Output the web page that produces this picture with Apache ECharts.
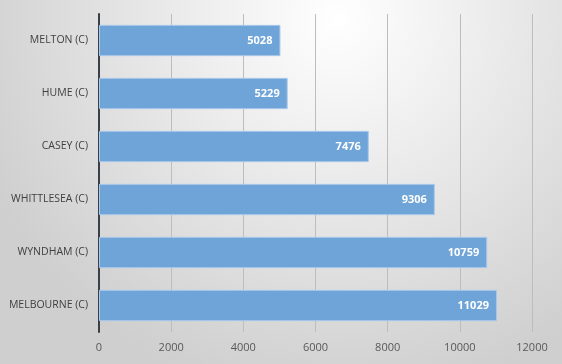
<!DOCTYPE html>
<html><head><meta charset="utf-8">
<script src="https://cdn.jsdelivr.net/npm/echarts@6/dist/echarts.min.js"></script>
<style>html,body{margin:0;padding:0;}#c{width:562px;height:364px;}</style>
</head><body><div id="c"></div>
<script>
const categories = ['MELTON (C)', 'HUME (C)', 'CASEY (C)', 'WHITTLESEA (C)', 'WYNDHAM (C)', 'MELBOURNE (C)'];
const values = [5028, 5229, 7476, 9306, 10759, 11029];
const xTicks = [0, 2000, 4000, 6000, 8000, 10000, 12000];

const chart = echarts.init(document.getElementById('c'), null, {renderer: 'canvas'});
chart.setOption({
  animation: false,
  backgroundColor: {
    type: 'radial', x: 0.6, y: 0.05, r: 1.05,
    colorStops: [{offset: 0, color: '#ffffff'}, {offset: 1, color: '#cfcfcf'}]
  },
  grid: {left: 99, right: 30, top: 14, bottom: 32, containLabel: false},
  xAxis: {
    type: 'value', min: xTicks[0], max: xTicks[xTicks.length - 1], interval: 2000,
    axisLine: {show: false}, axisTick: {show: false},
    splitLine: {show: true, lineStyle: {color: '#bdbdbd', width: 1}},
    axisLabel: {color: '#595959', fontFamily: 'Open Sans', fontSize: 11, margin: 10,
      formatter: v => String(v)}
  },
  yAxis: {
    type: 'category', data: categories, inverse: true,
    axisLine: {show: true, lineStyle: {color: '#3b3f46', width: 2}},
    axisTick: {show: false},
    axisLabel: {color: '#404040', fontFamily: 'Open Sans', fontSize: 10.5, margin: 11}
  },
  series: [{
    type: 'bar', data: values, barCategoryGap: '41%',
    itemStyle: {color: '#6fa4d8', borderColor: '#a8c8ea', borderWidth: 1},
    label: {show: true, position: 'insideRight', distance: 8, color: '#ffffff',
      fontFamily: 'Open Sans', fontWeight: 'bold', fontSize: 11}
  }]
});
</script></body></html>
